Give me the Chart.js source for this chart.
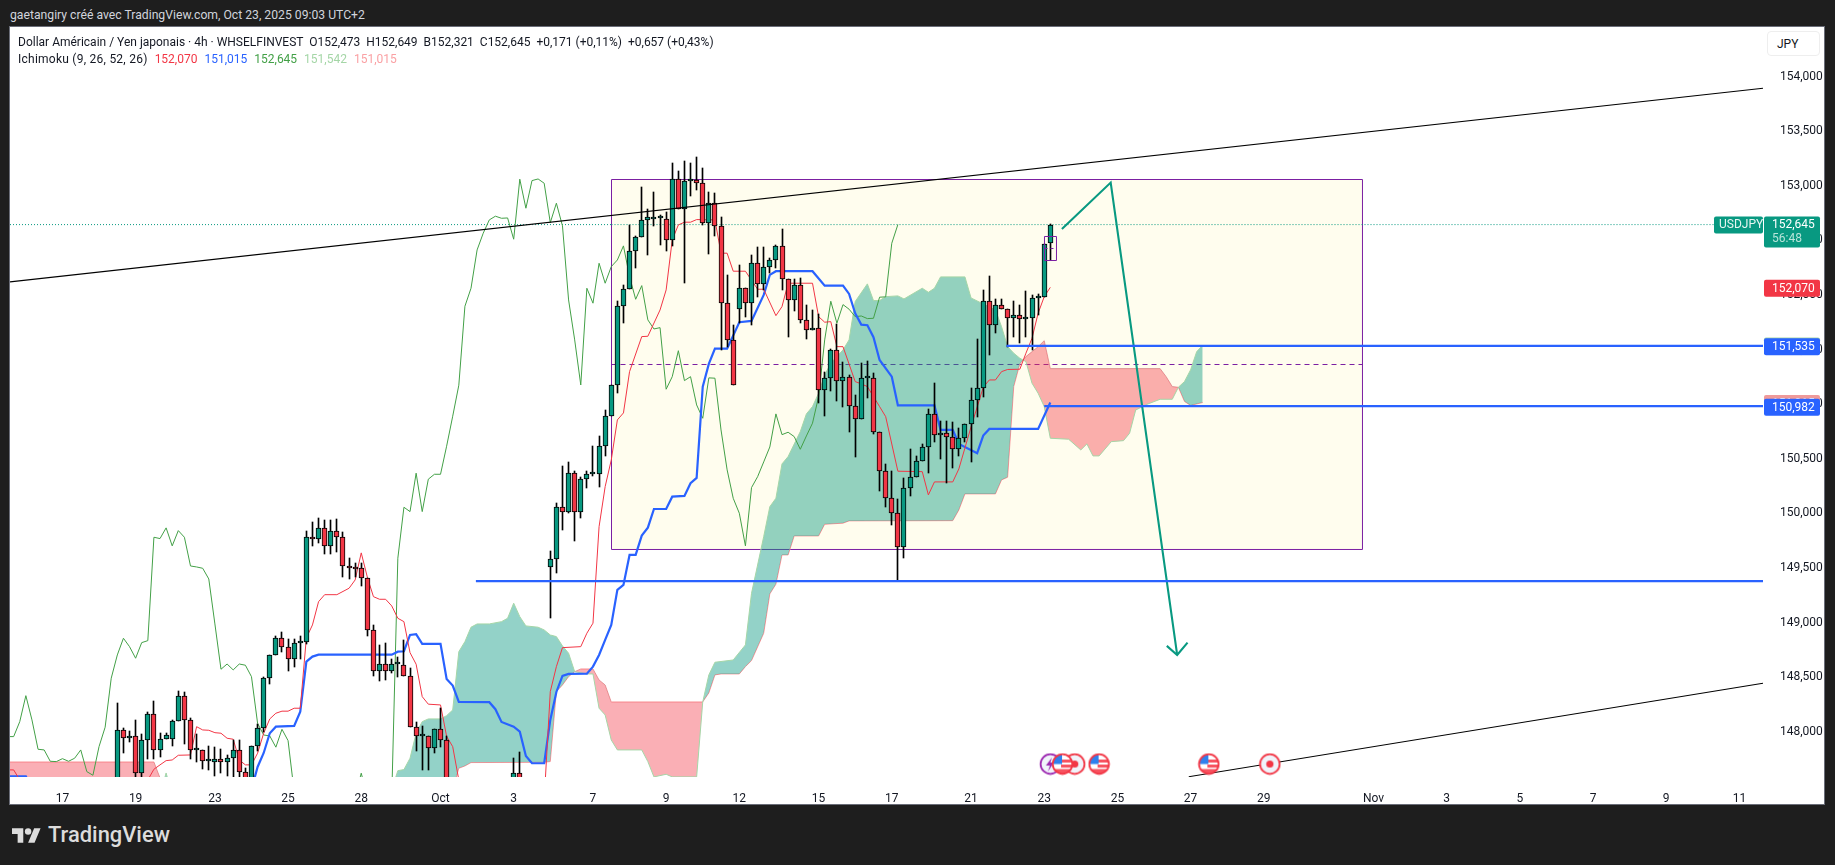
<!DOCTYPE html>
<html><head><meta charset="utf-8"><title>USDJPY</title>
<style>
html,body{margin:0;padding:0;width:1835px;height:865px;background:#1e1e1e;overflow:hidden;font-family:Roboto,"Liberation Sans",sans-serif}
#credit{position:absolute;left:10px;top:7px;font-size:12.2px;line-height:16px;color:#d1d4dc;white-space:nowrap}
#panel{position:absolute;left:10px;top:27px;width:1814px;height:777px;background:#fff;outline:1px solid #6a6d78}
canvas#c{position:absolute;left:0;top:0}
.leg{position:absolute;left:8px;font-size:12px;line-height:16px;color:#131722;white-space:nowrap}
.leg span{margin-left:7px}
#jpy{position:absolute;left:1757px;top:4px;width:53px;height:25px;border:1px solid #eee;border-radius:4px;background:#fff;font-size:12px;line-height:25px;color:#131722;box-sizing:border-box;padding-left:9px}
#logo{position:absolute;left:12px;top:828px}
#brand{position:absolute;left:48px;top:822px;font-size:21.9px;line-height:26px;font-weight:500;color:#dcdcdc}
</style></head><body>
<div id="credit">gaetangiry créé avec TradingView.com, Oct 23, 2025 09:03 UTC+2</div>
<div id="panel">
<canvas id="c" width="1814" height="777" style="width:1814px;height:777px"></canvas>
<div class="leg" style="top:7px">Dollar Américain / Yen japonais · 4h · WHSELFINVEST &nbsp;O152,473 &nbsp;H152,649 &nbsp;B152,321 &nbsp;C152,645 &nbsp;+0,171 (+0,11%) &nbsp;+0,657 (+0,43%)</div>
<div class="leg" style="top:24px"><b style="font-weight:400;letter-spacing:.25px">Ichimoku (9, 26, 52, 26)</b><span style="color:#f23645">152,070</span><span style="color:#2962ff">151,015</span><span style="color:#43a047">152,645</span><span style="color:#a5d6a7">151,542</span><span style="color:#faa1a4">151,015</span></div>
<div id="jpy">JPY</div>
</div>
<svg id="logo" width="29" height="15" viewBox="0 4 36 18"><path fill="#dcdcdc" d="M14 22H7V11H0V4h14v18zM28 22h-8l7.5-18h8L28 22z"/><circle fill="#dcdcdc" cx="20" cy="8" r="4"/></svg>
<div id="brand">TradingView</div>
<script src="https://cdn.jsdelivr.net/npm/chart.js@4/dist/chart.umd.min.js"></script>
<script>
const opens=[
147.40,148.013,147.94,147.957,147.622,147.925,148.163,147.833,147.931,147.931,
148.096,148.325,148.105,147.83,147.83,147.729,147.72,147.747,147.72,147.756,
147.83,147.628,147.5,147.87,148.031,148.49,148.70,148.856,148.774,148.664,
148.81,148.825,149.781,149.763,149.864,149.702,149.839,149.781,149.516,149.497,
149.497,149.406,148.93,148.56,148.618,148.56,148.618,148.609,148.508,148.041,
147.959,147.959,147.854,148.022,147.922,null,null,null,null,null,
null,null,null,null,null,147.40,147.62,null,null,null,
null,149.512,149.58,150.056,150.016,150.368,150.016,150.313,150.358,150.358,
150.615,150.89,151.174,151.897,152.053,152.401,152.535,152.685,152.70,152.703,
152.70,152.502,153.061,152.786,153.042,153.054,153.024,152.658,152.841,152.63,
151.93,151.586,151.87,152.062,151.925,152.291,152.099,152.255,152.319,152.447,
152.145,151.952,152.09,151.769,151.677,151.696,151.128,151.238,151.494,151.21,
151.247,150.981,150.862,151.238,151.238,150.743,150.386,150.139,150.001,149.69,
150.23,150.331,150.478,150.606,150.908,150.716,150.734,150.697,150.587,150.688,
150.816,151.036,151.146,151.943,151.723,151.906,151.87,151.787,151.815,151.778,
151.787,151.971,151.983,152.473];
const highs=[
148.264,148.035,148.007,148.108,147.98,148.184,148.282,147.989,147.989,148.108,
148.373,148.362,148.123,147.98,147.83,147.87,147.858,147.842,147.786,147.925,
147.922,147.67,147.87,148.071,148.504,148.706,148.877,148.911,148.847,148.847,
148.877,149.839,149.919,149.958,149.94,149.94,149.949,149.827,149.589,149.543,
149.546,149.406,148.978,148.795,148.81,148.664,148.682,148.841,148.581,148.09,
148.053,147.959,148.022,148.215,147.957,null,null,null,null,null,
null,null,null,null,null,147.756,147.812,null,null,null,
null,149.653,150.093,150.434,150.471,150.386,150.331,150.386,150.618,150.709,
150.945,151.174,151.946,152.09,152.642,152.541,152.99,152.786,152.944,152.731,
152.761,153.21,153.137,153.228,153.21,153.265,153.164,152.944,152.935,152.715,
152.184,151.726,152.276,152.062,152.367,152.44,152.44,152.337,152.456,152.605,
152.145,152.145,152.154,151.909,151.863,151.827,151.293,151.503,151.735,151.384,
151.268,151.085,151.375,151.394,151.284,150.743,150.45,150.386,150.129,150.322,
150.587,150.523,150.636,150.954,151.192,150.847,150.844,150.835,150.78,150.816,
151.146,151.595,152.044,152.175,151.961,151.961,151.87,151.943,151.906,152.037,
151.998,152.01,152.465,152.649];
const lows=[
147.30,147.806,147.909,147.56,147.56,147.75,147.75,147.772,147.931,147.87,
148.096,147.89,147.747,147.725,147.659,147.65,147.595,147.622,147.598,147.56,
147.56,147.5,147.5,147.82,148.0,148.435,148.70,148.728,148.56,148.596,
148.664,148.801,149.702,149.732,149.628,149.625,149.65,149.42,149.402,149.415,
149.335,148.88,148.514,148.468,148.474,148.541,148.504,148.508,148.041,147.827,
147.65,147.65,147.808,147.863,147.40,null,null,null,null,null,
null,null,null,null,null,147.30,147.30,null,null,null,
null,149.045,149.452,149.848,150.001,149.75,149.955,150.236,150.346,150.245,
150.529,150.89,151.10,151.742,152.053,152.251,152.535,152.367,152.633,152.459,
152.404,152.452,152.786,152.108,152.908,152.963,152.642,152.376,152.541,151.497,
151.524,151.174,151.742,151.802,151.726,151.98,152.047,152.2,152.245,152.047,
151.619,151.857,151.742,151.598,151.677,151.009,150.895,151.124,151.033,150.975,
150.749,150.514,150.862,151.06,150.725,150.208,150.056,149.891,149.381,149.589,
150.162,150.331,150.478,150.373,150.657,150.499,150.276,150.413,150.529,150.657,
150.468,150.886,151.069,151.451,151.655,151.87,151.522,151.619,151.558,151.619,
151.497,151.817,151.983,152.321];
const closes=[
148.013,147.94,147.957,147.622,147.925,148.163,147.833,147.934,147.968,148.096,
148.325,148.105,147.83,147.83,147.729,147.729,147.747,147.72,147.756,147.83,
147.628,147.5,147.87,148.031,148.49,148.70,148.856,148.774,148.664,148.81,
148.825,149.781,149.763,149.864,149.702,149.839,149.781,149.516,149.497,149.491,
149.406,148.93,148.56,148.618,148.56,148.618,148.618,148.508,148.041,147.959,
147.959,147.854,148.022,147.922,147.45,null,null,null,null,null,
null,null,null,null,null,147.62,147.40,null,null,null,
null,149.58,150.056,150.016,150.368,150.016,150.313,150.358,150.358,150.615,
150.89,151.174,151.897,152.053,152.401,152.535,152.685,152.713,152.713,152.703,
152.502,153.061,152.786,153.042,153.054,153.024,152.658,152.841,152.63,151.93,
151.586,151.174,152.062,151.925,152.291,152.099,152.255,152.319,152.447,152.145,
151.952,152.09,151.769,151.677,151.696,151.128,151.238,151.494,151.21,151.247,
150.981,150.862,151.238,151.238,150.743,150.386,150.139,150.001,149.69,150.23,
150.331,150.478,150.606,150.908,150.716,150.734,150.697,150.587,150.688,150.816,
151.036,151.146,151.943,151.723,151.906,151.87,151.787,151.815,151.778,151.787,
151.971,151.983,152.465,152.645];

const tenkan=[[-18,147.65],[-17,147.65],[-16,147.558],[-15,147.4],[4,147.4],[5,147.558],[6,147.656],[7,147.696],[8,147.735],[9,147.741],[10,147.784],[12,147.787],[13,148.046],[14,148.016],[15,148.013],[16,147.991],[17,147.986],[18,147.94],[19,147.931],[20,147.741],[21,147.696],[22,147.696],[23,147.803],[24,147.986],[25,148.117],[26,148.169],[27,148.188],[28,148.188],[29,148.215],[30,148.215],[31,148.859],[32,148.978],[33,149.191],[34,149.255],[36,149.255],[38,149.314],[39,149.39],[40,149.638],[41,149.415],[42,149.237],[43,149.213],[44,149.213],[45,149.152],[46,149.039],[47,149.008],[48,148.724],[49,148.618],[50,148.321],[51,148.252],[53,148.245],[54,147.957],[55,147.863],[56,147.558],[57,147.375],[70,147.375],[71,148.367],[72,148.596],[73,148.77],[76,148.779],[77,148.902],[78,148.994],[79,149.878],[80,150.245],[81,150.489],[82,150.856],[83,150.92],[84,151.298],[86,151.619],[87,151.622],[89,151.863],[90,152.047],[91,152.505],[92,152.642],[93,152.667],[94,152.667],[95,152.691],[98,152.688],[99,152.383],[100,152.383],[101,152.218],[103,152.218],[105,152.053],[106,152.053],[108,151.811],[109,151.894],[110,152.108],[114,152.108],[115,151.802],[116,151.751],[117,151.756],[118,151.527],[119,151.527],[121,151.207],[122,151.186],[123,151.161],[125,150.978],[126,150.886],[128,150.386],[132,150.382],[133,150.169],[134,150.288],[137,150.288],[138,150.407],[140,150.792],[142,151.155],[143,151.222],[144,151.222],[145,151.298],[146,151.318],[148,151.32],[149,151.467],[150,151.604],[151,151.833],[152,151.985],[153,152.07]];

const kijun=[[-18,147.592],[-15,147.592],[-14,147.47],[22,147.47],[23,147.677],[24,147.805],[25,147.986],[26,148.046],[29,148.053],[30,148.184],[31,148.642],[32,148.688],[33,148.706],[45,148.706],[46,148.733],[47,148.737],[48,148.886],[49,148.893],[50,148.804],[53,148.804],[54,148.483],[55,148.422],[56,148.273],[61,148.27],[62,148.206],[63,148.089],[65,148.046],[66,148.0],[67,147.778],[68,147.711],[70,147.711],[71,148.108],[72,148.364],[73,148.511],[74,148.529],[77,148.532],[78,148.596],[79,148.703],[80,148.841],[81,148.978],[82,149.299],[83,149.344],[84,149.619],[85,149.619],[86,149.796],[87,149.869],[88,150.04],[90,150.04],[91,150.153],[93,150.16],[94,150.276],[95,150.325],[96,151.161],[97,151.369],[98,151.509],[100,151.509],[102,151.751],[104,151.763],[106,152.001],[107,152.184],[108,152.218],[114,152.218],[116,152.086],[119,152.086],[120,152.01],[121,151.833],[122,151.729],[123,151.723],[124,151.613],[125,151.405],[127,151.252],[128,150.99],[134,150.99],[135,150.764],[137,150.764],[138,150.636],[141,150.551],[142,150.712],[143,150.773],[151,150.773],[153,151.015]];

const chikou=[[-18,147.955],[-17,147.955],[-16,148.092],[-15,148.33],[-14,148.108],[-13,147.839],[-12,147.833],[-11,147.729],[-10,147.726],[-9,147.753],[-8,147.729],[-7,147.757],[-6,147.833],[-5,147.634],[-4,147.601],[-3,147.863],[-2,148.041],[-1,148.49],[0,148.703],[1,148.856],[2,148.779],[3,148.673],[4,148.816],[5,148.834],[6,149.781],[7,149.769],[8,149.867],[9,149.702],[10,149.842],[11,149.781],[12,149.518],[13,149.509],[14,149.497],[15,149.399],[16,148.987],[17,148.572],[18,148.62],[19,148.566],[20,148.62],[21,148.609],[22,148.504],[23,148.077],[24,147.97],[25,147.961],[26,147.858],[27,148.022],[28,147.918],[29,147.45],[39,147.40],[40,147.62],[41,147.40],[45,147.40],[46,149.589],[47,150.056],[48,150.016],[49,150.368],[50,150.016],[51,150.313],[52,150.358],[53,150.358],[54,150.615],[55,150.89],[56,151.174],[57,151.897],[58,152.062],[59,152.413],[60,152.566],[61,152.688],[62,152.722],[63,152.703],[64,152.706],[65,152.511],[66,153.061],[67,152.795],[68,153.048],[69,153.063],[70,153.024],[71,152.663],[72,152.841],[73,152.633],[74,151.955],[75,151.589],[76,151.176],[77,152.062],[78,151.925],[79,152.291],[80,152.108],[81,152.26],[82,152.321],[83,152.45],[84,152.168],[85,151.961],[86,152.086],[87,151.772],[88,151.689],[89,151.701],[90,151.137],[91,151.252],[92,151.49],[93,151.216],[94,151.252],[95,150.993],[96,150.871],[97,151.241],[98,151.238],[99,150.764],[100,150.398],[101,150.138],[102,150.001],[103,149.702],[104,150.236],[105,150.336],[106,150.471],[107,150.608],[108,150.911],[109,150.721],[110,150.743],[111,150.703],[112,150.587],[113,150.709],[114,150.826],[115,151.069],[116,151.589],[117,151.943],[118,151.742],[119,151.912],[120,151.87],[121,151.802],[122,151.808],[123,151.784],[124,151.787],[125,151.98],[126,151.983],[127,152.474],[128,152.645]];

const senkouA=[[-18,147.375],[7,147.421],[8,147.622],[9,147.421],[45,147.467],[46,147.643],[47,147.653],[48,147.757],[49,147.986],[50,148.092],[51,148.117],[53,148.117],[54,148.147],[55,148.199],[56,148.733],[57,148.825],[58,148.957],[59,148.987],[61,148.987],[63,149.008],[64,149.039],[65,149.177],[66,149.054],[67,148.969],[69,148.957],[70,148.932],[71,148.886],[72,148.871],[73,148.786],[74,148.719],[75,148.55],[77,148.529],[78,148.529],[79,148.215],[80,148.153],[81,147.924],[82,147.833],[86,147.833],[87,147.726],[88,147.586],[90,147.61],[91,147.586],[95,147.586],[96,148.273],[97,148.52],[98,148.636],[101,148.657],[103,148.795],[104,149.268],[106,149.787],[107,150.061],[108,150.138],[109,150.453],[110,150.52],[112,150.749],[113,150.911],[114,150.978],[115,151.1],[116,151.268],[117,151.375],[119,151.497],[120,151.589],[121,151.94],[123,152.102],[124,151.949],[125,151.949],[126,151.985],[128,151.992],[129,151.964],[132,152.062],[133,152.025],[134,152.062],[135,152.166],[139,152.166],[140,151.973],[144,151.863],[145,151.71],[146,151.527],[147,151.467],[148,151.421],[149,151.39],[150,151.192],[151,151.1],[152,150.978],[153,150.688],[156,150.679],[158,150.581],[159,150.636],[160,150.526],[161,150.526],[163,150.657],[165,150.666],[166,150.734],[167,150.947],[169,151.002],[171,151.045],[173,151.045],[174,151.155],[175,151.207],[176,151.314],[177,151.481],[178,151.542]];

const senkouB=[[-18,147.723],[6,147.723],[7,147.577],[8,147.467],[55,147.467],[56,147.665],[57,147.686],[58,147.717],[70,147.72],[71,147.726],[72,148.367],[73,148.428],[74,148.504],[75,148.55],[76,148.575],[78,148.575],[79,148.474],[80,148.428],[81,148.273],[96,148.273],[97,148.355],[98,148.52],[99,148.529],[102,148.529],[103,148.596],[104,148.651],[106,148.902],[107,149.262],[108,149.351],[109,149.619],[110,149.619],[111,149.793],[115,149.793],[116,149.9],[119,149.91],[120,149.931],[137,149.933],[138,150.031],[139,150.178],[144,150.178],[145,150.306],[146,150.331],[147,151.161],[148,151.369],[149,151.436],[151,151.527],[152,151.582],[153,151.326],[171,151.326],[172,151.252],[173,151.161],[174,151.155],[175,151.025],[176,150.989],[178,151.015]];

const priceTicks=[154,153.5,153,152.5,152,151.5,151,150.5,150,149.5,149,148.5,148];
const timeTickIdx=[-9,3,16,28,40,53,65,78,90,102,115,127,140,152,164,176,188,206,218,230,242,254,266];
const timeTickLabels=["17","19","23","25","28","Oct","3","7","9","12","15","17","21","23","25","27","29","Nov","3","5","7","9","11"];

const lastPrice=152.645;
const upperTrend=[[-17.6,152.12],[269.87,153.894]];
const lowerTrend=[[175.7,147.588],[269.87,148.444]];
const levelHigh=[[145.8,151.535],[269.87,151.535]];
const levelMid=[[152,150.982],[269.87,150.982]];
const levelLow=[[58.8,149.38],[269.87,149.38]];
const arrowPath=[[154.9,152.605],[162.9,153.03],[173.8,148.703]];
const arrowHead=[[172.1,148.786],[173.8,148.703],[175.5,148.816]];
const boxIdx=[81.04,204.19], boxPrice=[153.058,149.669], boxMid=151.3635;
const markIdx=[152.04,154.01], markPrice=[152.536,152.316], markMid=152.426;
const eventIdx=[153,157,155,161,179,189], eventKinds=["bolt","jp","us","us","us","jp"], eventPrice=147.704;
const priceTags=[
 {p:151.015,t:"151,015",c:"#ef9a9a",off:1},
 {p:151.542,t:"",c:"#a5d6a7",off:1},
 {p:151.535,t:"151,535",c:"#2962ff",off:1},
 {p:150.982,t:"150,982",c:"#2962ff",off:1},
 {p:152.07,t:"152,070",c:"#f23645",off:1}
];

const idxMin=-17.6, idxMax=269.87, priceMin=147.585, priceMax=154.455;
const GREEN="#089981", RED="#f23645", BLUE="#2962ff", PURPLE="#7b1fa2";
const pts=a=>a.map(([x,y])=>({x,y}));

function icon(kind){
  const c=document.createElement('canvas');c.width=c.height=23;const g=c.getContext('2d');
  const circle=()=>{g.beginPath();g.arc(11.5,11.5,9.8,0,Math.PI*2);};
  circle();g.fillStyle="#f0f3fa";g.fill();
  if(kind==="jp"){g.beginPath();g.arc(11.5,11.5,3.6,0,Math.PI*2);g.fillStyle=RED;g.fill();}
  if(kind==="us"){
    g.save();circle();g.clip();
    g.fillStyle="#fff";g.fillRect(0,0,23,23);
    g.fillStyle="#f7525f";g.fillRect(10,7,14,3);g.fillRect(10,12,14,3);g.fillRect(0,16.5,23,8);
    g.fillStyle="#2f80ed";g.fillRect(0,0,11,11.5);
    g.restore();
  }
  if(kind==="bolt"){g.beginPath();g.moveTo(13,5);g.lineTo(7,13);g.lineTo(11,13);g.lineTo(9,19);g.lineTo(15,10);g.lineTo(11.5,10);g.closePath();g.fillStyle="#9c27b0";g.fill();}
  circle();g.lineWidth=1.8;g.strokeStyle=kind==="bolt"?"#9c27b0":RED;g.stroke();
  return c;
}

const idx=opens.map((_,i)=>i);
const bodies=idx.filter(i=>opens[i]!==null).map(i=>({x:i,y:[opens[i],closes[i]]}));
const wicks=idx.filter(i=>opens[i]!==null).map(i=>({x:i,y:[lows[i],highs[i]]}));
const line=(a,color,w,order,extra)=>Object.assign({type:'line',data:pts(a),borderColor:color,borderWidth:w,pointRadius:0,tension:0,fill:false,order,borderJoinStyle:'miter'},extra||{});
const forced={borderDash:[100000,1]};

const snapPlugin={id:'snap',beforeDatasetsDraw(ch){
  ch.data.datasets.forEach((d,i)=>{
    if(d.type!=='bar')return;
    ch.getDatasetMeta(i).data.forEach(e=>{
      e.x=Math.floor(e.x)+0.5;
      const a=Math.round(e.y),b=Math.round(e.base);
      e.y=a;e.base=(a===b)?a+1:b;
    });
  });
}};

const tagsPlugin={id:'tags',afterDraw(ch){
  const g=ch.ctx,s=ch.scales.y,L=ch.chartArea.right+1,W=56;
  g.save();g.font='12px Roboto,"Liberation Sans",sans-serif';g.textBaseline='middle';
  const tag=(x,y0,w,h,col)=>{g.fillStyle=col;g.beginPath();g.roundRect(x,y0,w,h,[2,2,2,2]);g.fill();};
  priceTags.forEach(t=>{const y=s.getPixelForValue(t.p)+t.off;tag(L,y-8.5,W,17,t.c);
    if(t.t){g.fillStyle='#fff';g.textAlign='left';g.fillText(t.t,L+8,y+0.5);}});
  const y=s.getPixelForValue(lastPrice);
  tag(L,y-8,W,31,GREEN);
  tag(L-50,y-8,49,17,GREEN);
  g.textAlign='left';g.fillStyle='#fff';g.fillText('152,645',L+8,y+0.5);
  g.fillStyle='#b7e4d9';g.fillText('56:48',L+8,y+14.5);
  g.fillStyle='#e6f5f1';g.fillText('USDJPY',L-45,y+0.5);
  g.restore();
}};

const datasets=[
 line(upperTrend,"#000",1.1,0),
 line(lowerTrend,"#000",1.1,0),
 line(levelHigh,BLUE,2.2,0),
 line(levelMid,BLUE,2.2,0),
 line(levelLow,BLUE,2.2,0),
 line(arrowPath,GREEN,2.1,0),
 line(arrowHead,GREEN,2.1,0,forced),
 {type:'line',label:'events',data:eventIdx.map(x=>({x,y:eventPrice})),showLine:false,pointStyle:eventKinds.map(icon),pointRadius:10,order:-1,clip:false},
 line([[markIdx[0],markPrice[0]],[markIdx[1],markPrice[0]],[markIdx[1],markPrice[1]],[markIdx[0],markPrice[1]],[markIdx[0],markPrice[0]]],PURPLE,1,0,forced),
 line([[markIdx[0],markMid],[markIdx[1],markMid]],PURPLE,1,0,{borderDash:[3,3]}),
 {type:'bar',data:bodies,barThickness:5,grouped:false,minBarLength:2,borderWidth:1,borderSkipped:false,borderColor:'#000',backgroundColor:bodies.map(b=>b.y[1]>=b.y[0]?GREEN:RED),order:1},
 {type:'bar',data:wicks,barThickness:1,grouped:false,borderWidth:0,backgroundColor:'#000',order:2},
 line(tenkan,RED,1,3),
 line(kijun,BLUE,2.2,3),
 line(chikou,"#43a047",1,3),
 line(senkouA,"#a5d6a7",1,4,{fill:{target:'+1',above:'rgba(8,153,129,0.44)',below:'rgba(242,54,69,0.4)'}}),
 line(senkouB,"#faa1a4",1,4),
 line([[boxIdx[0],lastPrice],[idxMax,lastPrice]],GREEN,1,5,{borderDash:[1,2]}),
 line([[-17.6,lastPrice],[boxIdx[0],lastPrice]],GREEN,1,5,{borderDash:[1,2]}),
 line([[boxIdx[0],boxMid],[boxIdx[1],boxMid]],PURPLE,1,5,{borderDash:[5,4]}),
 line([[boxIdx[0],boxPrice[0]],[boxIdx[1],boxPrice[0]],[boxIdx[1],boxPrice[1]],[boxIdx[0],boxPrice[1]],[boxIdx[0],boxPrice[0]]],PURPLE,1,6,forced),
 line([[boxIdx[0],boxPrice[0]],[boxIdx[1],boxPrice[0]]],'rgba(0,0,0,0)',0,7,{fill:{value:boxPrice[1]},backgroundColor:'#fffdee'})
];

Chart.defaults.font.family='Roboto,"Liberation Sans",sans-serif';
new Chart(document.getElementById('c'),{
 type:'bar',
 data:{datasets},
 plugins:[snapPlugin,tagsPlugin],
 options:{
  responsive:false,animation:false,devicePixelRatio:1,events:[],
  layout:{padding:0,autoPadding:false},
  plugins:{legend:{display:false},tooltip:{enabled:false},title:{display:false}},
  scales:{
   x:{type:'linear',min:idxMin,max:idxMax,offset:false,grid:{display:false},border:{display:false},
      afterBuildTicks:a=>{a.ticks=timeTickIdx.map(value=>({value}));},
      afterFit:a=>{a.height=27;a.paddingLeft=0;a.paddingRight=0;a.paddingTop=0;a.paddingBottom=0;},
      ticks:{autoSkip:false,maxRotation:0,minRotation:0,padding:7,color:'#131722',font:{size:12},
             callback:(v,i)=>timeTickLabels[i]}},
   y:{type:'linear',position:'right',min:priceMin,max:priceMax,grid:{display:false},border:{display:false},
      afterBuildTicks:a=>{a.ticks=priceTicks.map(value=>({value}));},
      afterFit:a=>{a.width=61;a.paddingTop=0;a.paddingBottom=0;a.paddingLeft=0;a.paddingRight=0;},
      ticks:{autoSkip:false,padding:9,color:'#131722',font:{size:12},
             callback:v=>v.toFixed(3).replace('.',',')}}
  }
 }
});
</script>
</body></html>
